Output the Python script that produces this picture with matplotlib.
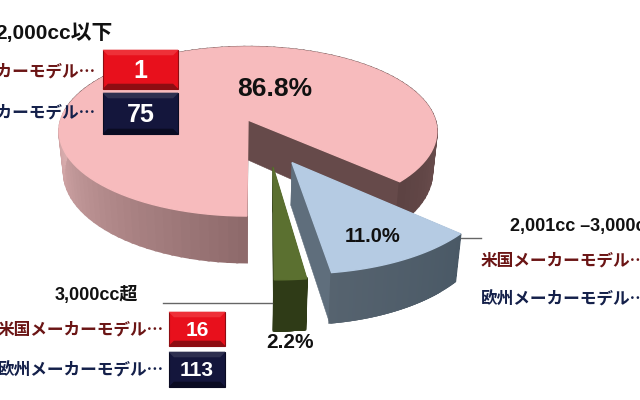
import numpy as np
import matplotlib
matplotlib.use("Agg")
import matplotlib.pyplot as plt
from matplotlib.patches import Polygon, Rectangle

plt.rcParams['font.family'] = ['Liberation Sans', 'Noto Sans CJK JP', 'DejaVu Sans']

# data
shares = [86.8, 11.0, 2.2]
share_labels = ["86.8%", "11.0%", "2.2%"]
groups = ["2,000cc以下", "2,001cc –3,000cc", "3,000cc超"]
us_label = "米国メーカーモデル…"
eu_label = "欧州メーカーモデル…"
low_counts = [1, 75]
high_counts = [16, 113]

# pie projection
CX, CY = 248, 120
RX, RY = 187, 83
K = 0.136
H = 40
START = 42.5   # angle where the 11.0% slice begins
CJK = ['Noto Sans CJK JP', 'Liberation Sans']  # centred ellipsis


def project(u, v, down=False):
    s = 1 / (1 - K * v)
    x = CX + RX * u * s
    y = CY + RY * v * s
    if down:
        x = CX + (x - CX) * 0.975
        y = y + H * s
    return x, y


def ring(a0, a1, ox, oy, down=False):
    t = np.radians(np.linspace(a0, a1, 120))
    return project(ox + np.cos(t), oy + np.sin(t), down)


def mix(c1, c2, f):
    c1, c2 = np.array(matplotlib.colors.to_rgb(c1)), np.array(matplotlib.colors.to_rgb(c2))
    return tuple(c1 + (c2 - c1) * f)


fig = plt.figure(figsize=(6.4, 4), dpi=100)
ax = fig.add_axes([0, 0, 1, 1])
ax.set_xlim(0, 640)
ax.set_ylim(400, 0)
ax.axis('off')


def poly(xs, ys, color, z=2, lw=0.4):
    ax.add_patch(Polygon(np.column_stack([xs, ys]), closed=True, fc=color, ec=color, lw=lw, zorder=z))


def draw_slice(a0, a1, ox, oy, top, wall_fn, side):
    xt, yt = ring(a0, a1, ox, oy)
    xb, yb = ring(a0, a1, ox, oy, True)
    ax_, ay_ = project(ox, oy)
    bx_, by_ = project(ox, oy, True)
    # cut faces
    poly([ax_, xt[0], xb[0], bx_], [ay_, yt[0], yb[0], by_], side)
    poly([ax_, xt[-1], xb[-1], bx_], [ay_, yt[-1], yb[-1], by_], side)
    # outer wall, thick edges so the strips close up
    for i in range(len(xt) - 1):
        f = i / (len(xt) - 1)
        poly([xt[i], xt[i + 1], xb[i + 1], xb[i]], [yt[i], yt[i + 1], yb[i + 1], yb[i]], wall_fn(f), lw=1.6)
    poly(np.r_[ax_, xt], np.r_[ay_, yt], top, lw=1.0)


a_blue = START
a_green = a_blue + shares[1] * 3.6
a_main = a_green + shares[2] * 3.6 + 0.3
a_end = START + 360


def main_wall(f):
    ang = a_main + (a_end - a_main) * f
    if ang < 185:
        return mix('#8E6A6B', '#DDB0B1', (ang - 90) / 95)
    return mix('#7A5B5B', '#5C4242', (ang - 330) / 72) if ang > 330 else '#7A5B5B'


draw_slice(a_main, a_end, 0, 0, '#F7BBBD', main_wall, '#664A4A')
draw_slice(a_green + 0.7, a_green + shares[2] * 3.6 + 0.7, 0.124, 0.526, '#5B7030', lambda f: '#2F3B17', '#2F3B17')
draw_slice(a_blue, a_green, 0.22, 0.48, '#B5CBE3', lambda f: mix('#4A5966', '#56636F', f), '#5F6E7C')

# leader lines
ax.plot([461, 481], [238, 238], color='#666666', lw=1, zorder=3)
ax.plot([163, 272], [303, 303], color='#666666', lw=1, zorder=3)


def badge(x0, y0, x1, y1, base, light, dark, value, fs):
    b = 5
    ax.add_patch(Rectangle((x0, y0), x1 - x0, y1 - y0, fc=base, ec=dark, lw=0.8, zorder=5))
    poly([x0, x1, x1 - b, x0 + b], [y0, y0, y0 + b, y0 + b], light, 6)
    poly([x0, x1, x1 - b, x0 + b], [y1, y1, y1 - b, y1 - b], dark, 6)
    ax.text((x0 + x1) / 2, (y0 + y1) / 2 + 1, str(value), color='white', fontsize=fs,
            fontweight='bold', ha='center', va='center', zorder=7)


RED_B = ('#E8101C', '#EE3038', '#8E0D12')
NAVY_B = ('#14163C', '#2E3050', '#0A0B22')
badge(103, 50, 178, 89, *RED_B, low_counts[0], 18)
badge(103, 93, 178, 134, *NAVY_B, low_counts[1], 18)
badge(169, 312, 225, 346, *RED_B, high_counts[0], 15)
badge(169, 352, 225, 387, *NAVY_B, high_counts[1], 15)

# text
RED, NAVY = '#6B1515', '#14204A'
ax.text(113, 33, groups[0], fontsize=15, fontweight='bold', ha='right', va='center', color='#111111', zorder=8)
ax.text(96, 72, us_label, fontsize=12, family=CJK, fontweight='bold', ha='right', va='center', color=RED, zorder=8)
ax.text(96, 114, eu_label, fontsize=12, family=CJK, fontweight='bold', ha='right', va='center', color=NAVY, zorder=8)
ax.text(138, 295, groups[2], fontsize=13, fontweight='bold', ha='right', va='center', color='#111111', zorder=8)
ax.text(164, 330, us_label, fontsize=12, family=CJK, fontweight='bold', ha='right', va='center', color=RED, zorder=8)
ax.text(164, 371, eu_label, fontsize=12, family=CJK, fontweight='bold', ha='right', va='center', color=NAVY, zorder=8)
ax.text(510, 227, groups[1], fontsize=13, fontweight='bold', ha='left', va='center', color='#111111', zorder=8)
ax.text(481, 261, us_label, fontsize=12, family=CJK, fontweight='bold', ha='left', va='center', color=RED, zorder=8)
ax.text(481, 300, eu_label, fontsize=12, family=CJK, fontweight='bold', ha='left', va='center', color=NAVY, zorder=8)
ax.text(275, 89, share_labels[0], fontsize=19, fontweight='bold', ha='center', va='center', color='#111111', zorder=8)
ax.text(373, 236, share_labels[1], fontsize=14.5, fontweight='bold', ha='center', va='center', color='#111111', zorder=8)
ax.text(290, 342, share_labels[2], fontsize=15, fontweight='bold', ha='center', va='center', color='#111111', zorder=8)

fig.savefig("out.png", dpi=100)
